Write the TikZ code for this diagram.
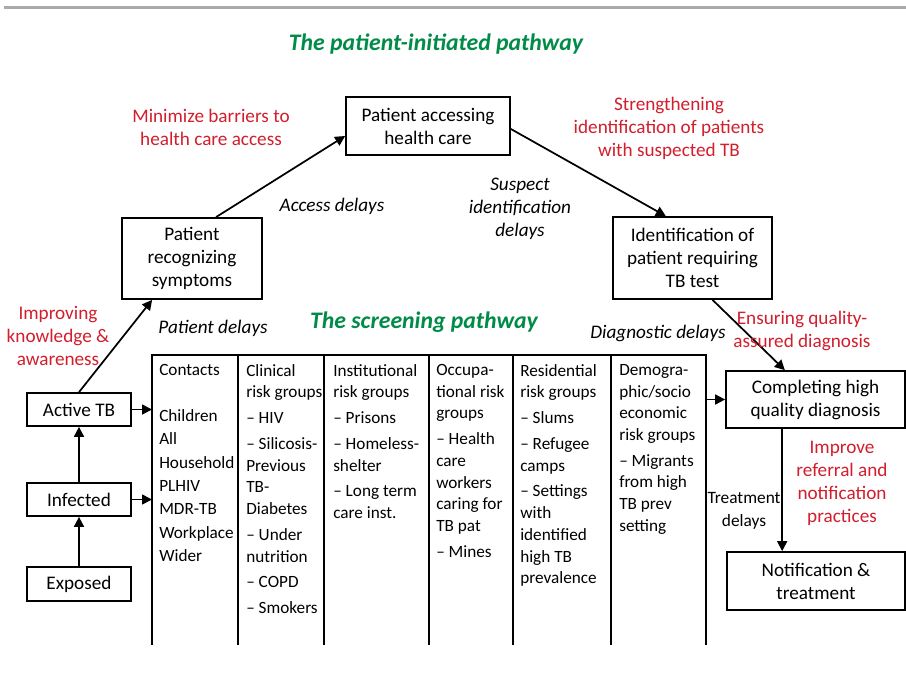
\documentclass[tikz,border=0pt]{standalone}
\usepackage{fontspec}
\setmainfont{Carlito}
\usetikzlibrary{arrows.meta}
\definecolor{tbred}{RGB}{210,30,45}
\definecolor{tbgreen}{RGB}{0,140,72}
\definecolor{rulegray}{RGB}{170,170,170}
\newcommand\fsz{\fontsize{14.4}{17.25}\selectfont}
\newcommand\fsmall{\fontsize{13}{17.25}\selectfont}
\newcommand\fcol{\fontsize{12.9}{16.3}\selectfont}
\begin{document}
\begin{tikzpicture}[x=0.75pt,y=-0.75pt,
  box/.style={draw, line width=1.3pt, inner sep=0pt, align=center, font=\fsz},
  redlbl/.style={text=tbred, align=center, font=\fsz, inner sep=0pt},
  itlbl/.style={align=center, font=\fsz\itshape, inner sep=0pt},
  plainlbl/.style={align=center, font=\fsmall, inner sep=0pt},
  ttl/.style={text=tbgreen, font=\fontsize{17.8}{20}\selectfont\bfseries\itshape, inner sep=0pt},
  col/.style={anchor=north west, align=left, font=\fcol, inner sep=0pt},
  arr/.style={line width=1.3pt, -{Triangle[length=7.5pt,width=7.5pt]}},
  tline/.style={line width=1.3pt, line join=miter}]
\useasboundingbox (0,0) rectangle (906,677);
\fill[white] (0,0) rectangle (906,677);
\draw[rulegray, line width=1.6pt] (4,7.5) -- (906,7.5);

\node[ttl] (t1) at (436,44) {The patient-initiated pathway};
\node[ttl] (t2) at (424,322) {The screening pathway};

% boxes
\node[box, minimum width=123pt, minimum height=43.5pt] (access) at (428,126) {Patient accessing\\health care};
\node[box, minimum width=105pt, minimum height=60.75pt] (recog) at (192,258.5) {Patient\\recognizing\\symptoms};
\node[box, minimum width=119.25pt, minimum height=61.5pt] (ident) at (692.5,258) {Identification of\\patient requiring\\TB test};
\node[box, minimum width=78pt, minimum height=24.75pt] (active) at (79,409.5) {Active TB};
\node[box, minimum width=78pt, minimum height=24.75pt] (infected) at (79,499.5) {Infected};
\node[box, minimum width=78pt, minimum height=25.5pt] (exposed) at (79,584) {Exposed};
\node[box, minimum width=134.25pt, minimum height=42.75pt] (complete) at (815.5,399.5) {Completing high\\quality diagnosis};
\node[box, minimum width=133.5pt, minimum height=43.5pt] (notif) at (816,581) {Notification \&\\treatment};

% table
\coordinate (tTL) at (152,355);
\coordinate (tTR) at (706,355);
\draw[tline] (152,645) -- (tTL) -- (tTR) -- (706,645);
\foreach \xx in {238,324,429,513,611} \draw[tline] (\xx,355) -- (\xx,645);

\node[col] (c1) at (159,364) {Contacts\\[18.2pt]Children\\[1.2pt]All\\[1.2pt]Household\\[1.2pt]PLHIV\\[1.2pt]MDR-TB\\[1.2pt]Workplace\\[1.2pt]Wider};
\node[col] (c2) at (246,364) {Clinical\\risk groups\\[3pt]– HIV\\[3pt]– Silicosis-\\Previous\\TB-\\Diabetes\\[3pt]– Under\\nutrition\\[3pt]– COPD\\[3pt]– Smokers};
\node[col] (c3) at (333,364) {Institutional\\risk groups\\[3pt]– Prisons\\[3pt]– Homeless-\\shelter\\[3pt]– Long term\\care inst.};
\node[col] (c4) at (436,364) {Occupa-\\tional risk\\groups\\[3pt]– Health\\care\\workers\\caring for\\TB pat\\[3pt]– Mines};
\node[col] (c5) at (520,364) {Residential\\risk groups\\[3pt]– Slums\\[3pt]– Refugee\\camps\\[3pt]– Settings\\with\\identified\\high TB\\prevalence};
\node[col] (c6) at (619,364) {Demogra-\\phic/socio\\economic\\risk groups\\[3pt]– Migrants\\from high\\TB prev\\setting};

% arrows
\draw[arr] (active.north) -- ([xshift=23.25pt]recog.south west);
\draw[arr] ([xshift=18pt]recog.north) -- ([yshift=-7.5pt]access.west);
\draw[arr] ([yshift=-2.25pt]access.east) -- ([xshift=-20pt]ident.north);
\draw[arr] ([xshift=15pt]ident.south) -- ([xshift=-23pt]complete.north);
\draw[arr] ([xshift=-25pt]complete.south) -- ([xshift=-25pt]complete.south |- notif.north);
\draw[arr] (exposed.north) -- (infected.south);
\draw[arr] (infected.north) -- (active.south);
\draw[arr] (active.east) -- (active.east -| tTL);
\draw[arr] (infected.east) -- (infected.east -| tTL);
\draw[arr] (complete.west -| tTR) -- (complete.west);

% labels
\node[redlbl] (l1) at (211,127) {Minimize barriers to\\health care access};
\node[itlbl] (l2) at (332,206) {Access delays};
\node[redlbl] (l3) at (669,128) {Strengthening\\identification of patients\\with suspected TB};
\node[itlbl] (l4) at (520,209) {Suspect\\identification\\delays};
\node[redlbl] (l5) at (58,336) {Improving\\knowledge \&\\awareness};
\node[itlbl] (l6) at (213,328) {Patient delays};
\node[itlbl] (l7) at (658,333) {Diagnostic delays};
\node[redlbl] (l8) at (802,330.5) {Ensuring quality-\\assured diagnosis};
\node[redlbl] (l9) at (842,483) {Improve\\referral and\\notification\\practices};
\node[plainlbl] (l10) at (744,510.5) {Treatment\\delays};
\end{tikzpicture}
\end{document}
